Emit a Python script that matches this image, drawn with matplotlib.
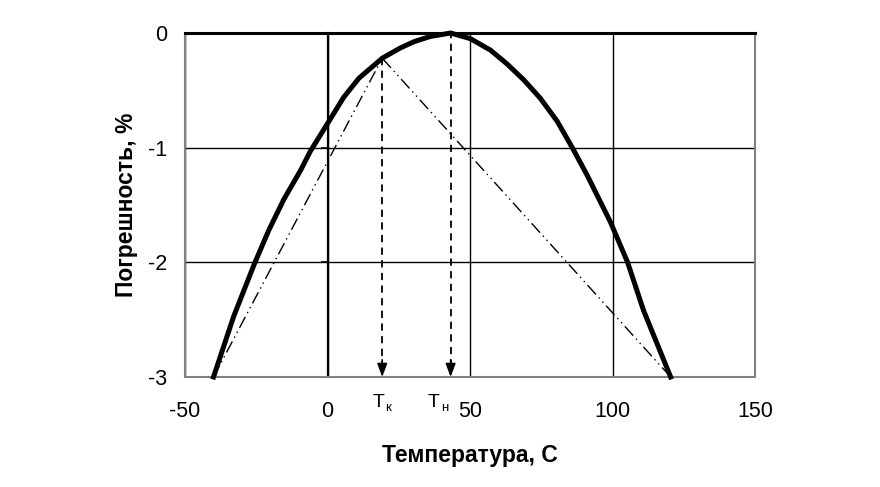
import matplotlib
matplotlib.use("Agg")
import matplotlib.pyplot as plt

plt.rcParams["font.family"] = ["Liberation Sans", "DejaVu Sans"]
plt.rcParams["axes.unicode_minus"] = False

# error curve
temp = [-40, -32.9, -25.6, -20.6, -15.3, -9.5, -6, 0.5, 5.7, 11, 19.2, 25.6, 30.3, 36.1,
        43.2, 50.2, 57.2, 63, 68.9, 74.7, 80.6, 85.9, 91.1, 99.3, 105.3, 110.9, 120.4]
error = [-3.0, -2.47, -2.01, -1.72, -1.45, -1.2, -1.03, -0.77, -0.56, -0.395, -0.22, -0.13,
         -0.076, -0.03, 0.0, -0.05, -0.15, -0.27, -0.41, -0.57, -0.77, -1.0, -1.24, -1.65,
         -2.0, -2.42, -3.0]

# broken chord through T_k
chord_t = [-40, 19.2, 120.4]
chord_e = [-3.0, -0.22, -3.0]

t_k, e_k = 19.2, -0.22
t_n, e_n = 43.2, 0.02

xticks = [-50, 0, 50, 100, 150]
yticks = [-3, -2, -1, 0]

fig = plt.figure(figsize=(8.8, 4.87), dpi=100)
ax = fig.add_axes([185 / 880, 1 - 377 / 487, 570 / 880, 344 / 487])

ax.set_xlim(-50, 150)
ax.set_ylim(-3, 0)
ax.set_xticks(xticks)
ax.set_yticks(yticks)
ax.grid(True, color="black", linewidth=1.0)
ax.tick_params(length=0, labelsize=15.5)
ax.tick_params(axis="x", pad=17)
ax.tick_params(axis="y", pad=13)

for side in ("left", "bottom", "right"):
    ax.spines[side].set_color("#808080")
    ax.spines[side].set_linewidth(1.5)
ax.spines["top"].set_color("black")
ax.spines["top"].set_linewidth(2.2)

# y axis crossing at T = 0
sec = ax.secondary_yaxis(0.25)
sec.set_yticks(yticks)
sec.set_yticklabels([])
sec.tick_params(length=5, width=1.2, direction="out")
sec.spines["left"].set_linewidth(1.6)
sec.spines["left"].set_color("black")

ax.plot(chord_t, chord_e, color="black", linewidth=1.0,
        linestyle=(0, (9, 3, 1, 3, 1, 3)), zorder=3)
ax.plot(temp, error, color="black", linewidth=3.6, zorder=4,
        solid_joinstyle="round", clip_on=False)

for t0, e0 in ((t_k, e_k), (t_n, e_n)):
    ax.plot([t0, t0], [e0, -2.9], color="black", linewidth=1.3,
            linestyle=(0, (4, 3)), zorder=5, clip_on=False)
    ax.annotate("", xy=(t0, -3.0), xytext=(t0, -2.85),
                arrowprops=dict(arrowstyle="-|>,head_length=0.8,head_width=0.3",
                                color="black", lw=1.2, shrinkA=0, shrinkB=0),
                zorder=6, annotation_clip=False)

# T_k / T_n labels under the axis
for t0, sub, dx_t, dx_s in ((t_k, "к", -7, 2.4), (t_n, "н", -16.5, -6.5)):
    ax.annotate("Т", xy=(t0, 0), xycoords=("data", "axes fraction"),
                xytext=(dx_t, -21.6), textcoords="offset points",
                ha="left", va="baseline", fontsize=14)
    ax.annotate(sub, xy=(t0, 0), xycoords=("data", "axes fraction"),
                xytext=(dx_s, -24.5), textcoords="offset points",
                ha="left", va="baseline", fontsize=9.5)

ax.set_xlabel("Температура, С", fontsize=16.5, fontweight="bold", labelpad=16)
ax.set_ylabel("Погрешность, %", fontsize=16.5, fontweight="bold", labelpad=7)

fig.savefig("out.png", dpi=100)
